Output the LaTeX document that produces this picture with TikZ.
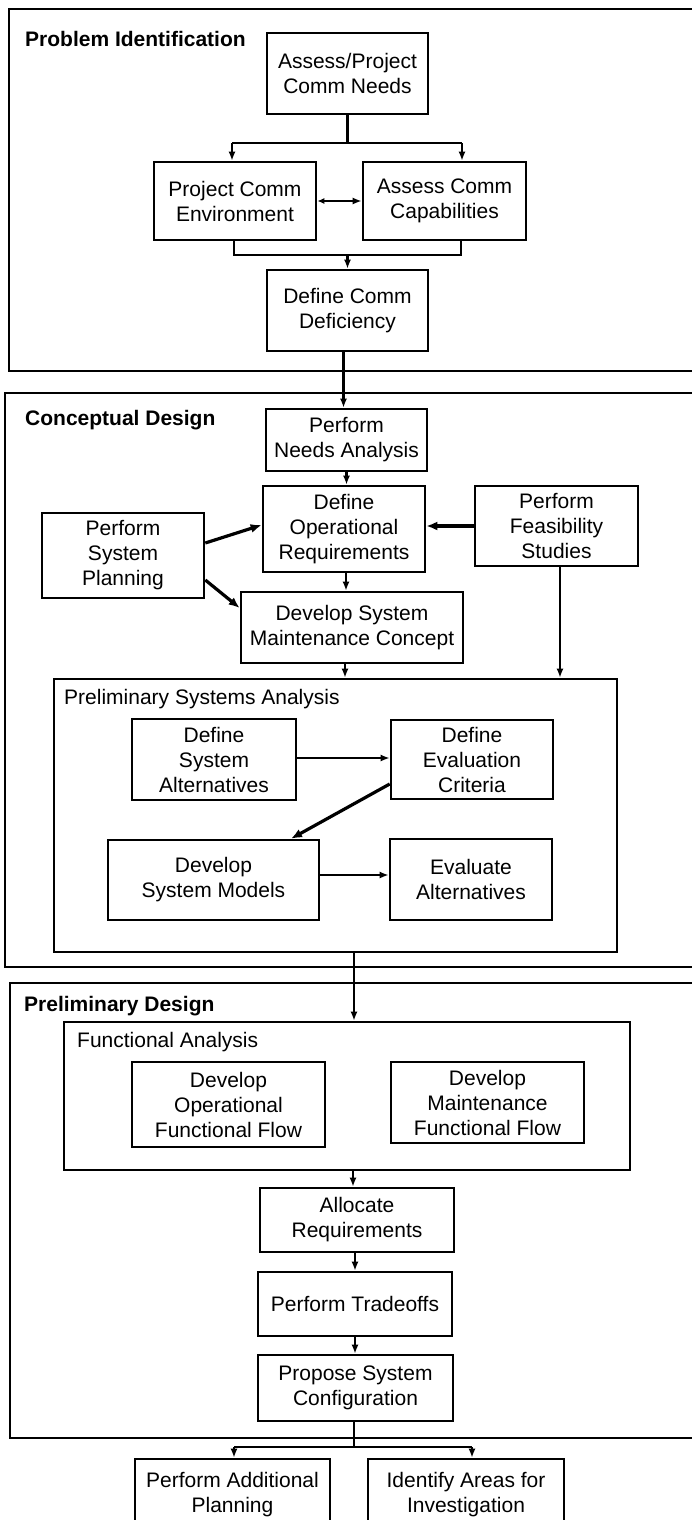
\documentclass[tikz,border=0pt]{standalone}
\usepackage{fontspec}
\setmainfont{Liberation Sans}
\usetikzlibrary{arrows.meta}
\begin{document}
\begin{tikzpicture}[x=1pt,y=-1pt,
  box/.style={draw,line width=2.6pt,inner sep=0pt,align=center,
    font=\fontsize{21}{25}\selectfont},
  frame/.style={draw,line width=2.8pt},
  group/.style={draw,line width=2.6pt,inner sep=0pt},
  title/.style={anchor=base west,inner sep=0pt,font=\fontsize{21}{25}\selectfont\bfseries},
  subtitle/.style={anchor=base west,inner sep=0pt,font=\fontsize{21}{25}\selectfont},
  link/.style={line width=2.3pt},
  arr/.style={line width=2.3pt,-{Latex[length=9pt,width=7pt]}},
  dblarr/.style={line width=2.3pt,{Latex[length=7pt,width=6pt]}-{Latex[length=9pt,width=7pt]}},
  heavy/.style={line width=3.2pt,-{Latex[length=11pt,width=9pt]}},
]
\useasboundingbox (0,0) rectangle (692,1520);

% ---------- phase frames (open to the right) ----------
\draw[frame] (9,9) rectangle (720,371);
\draw[frame] (5,393) rectangle (720,967);
\draw[frame] (10,983) rectangle (720,1438);

\node[title] (tPI) at (25,47) {Problem Identification};
\node[title] (tCD) at (25,425) {Conceptual Design};
\node[title] (tPD) at (24,1011) {Preliminary Design};

% ---------- Problem Identification ----------
\node[box,minimum width=161pt,minimum height=81pt] (A) at (347.5,73.5) {Assess/Project\\Comm Needs};
\node[box,minimum width=162pt,minimum height=78pt] (B) at (235,201) {Project Comm\\Environment};
\node[box,minimum width=163pt,minimum height=78pt] (C) at (444.5,201) {Assess Comm\\Capabilities};
\node[box,minimum width=161pt,minimum height=81pt] (D) at (347.5,310.5) {Define Comm\\Deficiency};

\coordinate (jB) at (232,143);
\coordinate (jC) at (462,143);
\draw[link] (A.south) -- (A.south |- jB);
\draw[link] (jB) -- (jC);
\draw[arr] (jB) -- (jB |- B.north);
\draw[arr] (jC) -- (jC |- C.north);
\draw[dblarr] (B.east) -- (C.west);

\coordinate (mB) at (234,255);
\coordinate (mC) at (461,255);
\draw[link] (mB |- B.south) -- (mB) -- (mC) -- (mC |- C.south);
\draw[arr] (D.north |- mB) -- (D.north);

% ---------- Conceptual Design ----------
\node[box,minimum width=161pt,minimum height=62pt] (E) at (346.5,440) {Perform\\Needs Analysis};
\node[box,minimum width=162pt,minimum height=86pt] (F) at (344,529) {Define\\Operational\\Requirements};
\node[box,minimum width=162pt,minimum height=85pt] (G) at (123,555.5) {Perform\\System\\Planning};
\node[box,minimum width=163pt,minimum height=80pt] (H) at (556.5,526) {Perform\\Feasibility\\Studies};
\node[box,minimum width=222pt,minimum height=71pt] (I) at (352,627.5) {Develop System\\Maintenance Concept};

\draw[arr] ([xshift=-4pt]D.south) -- ([xshift=-4pt]D.south |- E.north);
\draw[arr] (E.south) -- (E.south |- F.north);
\draw[heavy] ([yshift=12.5pt]G.east) -- ([yshift=4pt]F.west);
\draw[heavy] ([yshift=-24.5pt]G.east) -- ([yshift=19.5pt]I.west);
\draw[heavy] (H.west) -- (H.west -| F.east);
\draw[arr] ([xshift=2pt]F.south) -- ([xshift=2pt]F.south |- I.north);

% Preliminary Systems Analysis
\node[group,minimum width=563pt,minimum height=273pt] (J) at (335.5,815.5) {};
\node[subtitle] (tJ) at (64,704) {Preliminary Systems Analysis};
\node[box,minimum width=164pt,minimum height=81pt] (K) at (214,759.5) {Define\\System\\Alternatives};
\node[box,minimum width=162pt,minimum height=79pt] (L) at (472,759.5) {Define\\Evaluation\\Criteria};
\node[box,minimum width=211pt,minimum height=80pt] (M) at (213.5,880) {Develop\\System Models};
\node[box,minimum width=162pt,minimum height=81pt] (N) at (471,879.5) {Evaluate\\Alternatives};

\draw[arr] ([xshift=-7pt]I.south) -- ([xshift=-7pt]I.south |- J.north);
\draw[arr] ([xshift=3.5pt]H.south) -- ([xshift=3.5pt]H.south |- J.north);
\draw[arr,line width=2.6pt] ([yshift=1.5pt]K.east) -- ([yshift=1.5pt]K.east -| L.west);
\draw[heavy] ([yshift=-24.5pt]L.west) -- ([xshift=77.5pt]M.north);
\draw[arr] ([yshift=5pt]M.east) -- ([yshift=5pt]M.east -| N.west);

% ---------- Preliminary Design ----------
\node[group,minimum width=566pt,minimum height=148pt] (O) at (347,1096) {};
\node[subtitle] (tO) at (77,1047) {Functional Analysis};
\node[box,minimum width=193pt,minimum height=85pt] (P) at (228.5,1104.5) {Develop\\Operational\\Functional Flow};
\node[box,minimum width=193pt,minimum height=81pt] (Q) at (487.5,1102.5) {Develop\\Maintenance\\Functional Flow};
\node[box,minimum width=194pt,minimum height=64pt] (R) at (357,1220) {Allocate\\Requirements};
\node[box,minimum width=194pt,minimum height=64pt] (S) at (355,1304) {Perform Tradeoffs};
\node[box,minimum width=195pt,minimum height=66pt] (T) at (355.5,1388) {Propose System\\Configuration};

\draw[arr] ([xshift=18.5pt]J.south) -- ([xshift=18.5pt]J.south |- O.north);
\draw[arr] ([xshift=-4pt]R.north |- O.south) -- ([xshift=-4pt]R.north);
\draw[arr] ([xshift=-2pt]R.south) -- ([xshift=-2pt]R.south |- S.north);
\draw[arr] (S.south) -- (S.south |- T.north);

% ---------- outputs ----------
\node[box,minimum width=195pt,minimum height=71pt] (U) at (232.5,1494.5) {Perform Additional\\Planning};
\node[box,minimum width=196pt,minimum height=71pt] (V) at (466,1494.5) {Identify Areas for\\Investigation};

\coordinate (jU) at (234,1447);
\coordinate (jV) at (472,1447);
\draw[link] ([xshift=-1.5pt]T.south) -- ([xshift=-1.5pt]T.south |- jU);
\draw[link] (jU) -- (jV);
\draw[arr] (jU) -- (jU |- U.north);
\draw[arr] (jV) -- (jV |- V.north);
\end{tikzpicture}
\end{document}
